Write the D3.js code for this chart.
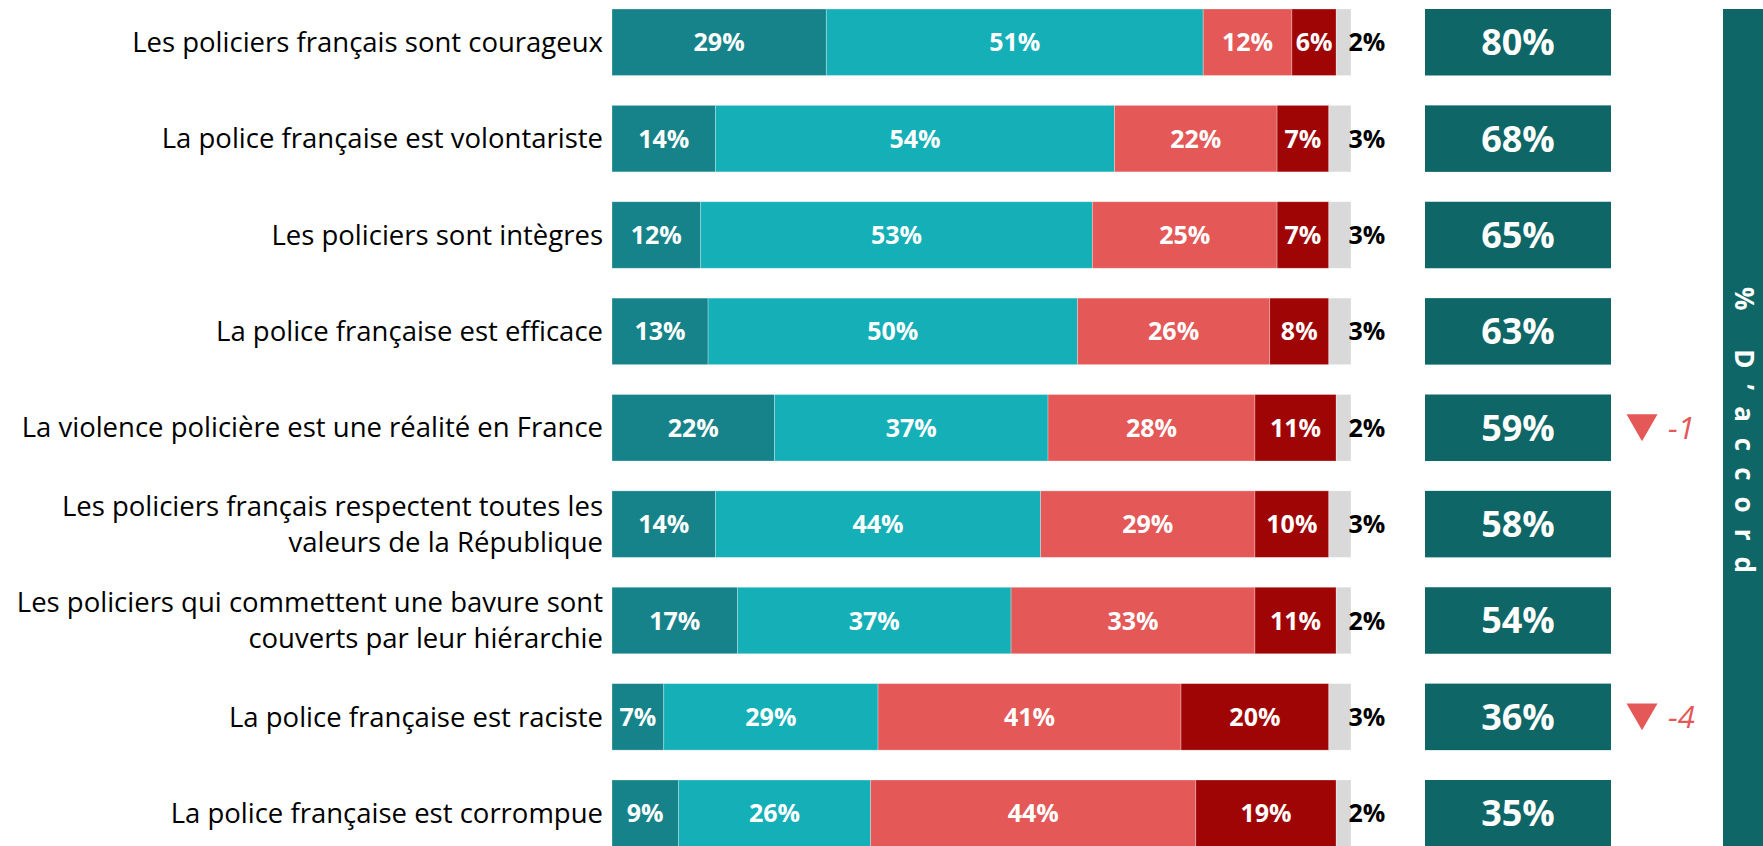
<!DOCTYPE html>
<html>
<head>
<meta charset="utf-8">
<script src="https://cdn.jsdelivr.net/npm/d3@7"></script>
<style>
  body { margin: 0; background: #fff; }
  svg text { font-family: "Open Sans", "Noto Sans", sans-serif; }
</style>
</head>
<body>
<div id="chart"></div>
<script>
var width = 1763,
    height = 846;

// data
var categories = [
    'Les policiers français sont courageux',
    'La police française est volontariste',
    'Les policiers sont intègres',
    'La police française est efficace',
    'La violence policière est une réalité en France',
    'Les policiers français respectent toutes les\nvaleurs de la République',
    'Les policiers qui commettent une bavure sont\ncouverts par leur hiérarchie',
    'La police française est raciste',
    'La police française est corrompue'
];
var toutAFait = [29, 14, 12, 13, 22, 14, 17, 7, 9];
var plutot = [51, 54, 53, 50, 37, 44, 37, 29, 26];
var plutotPas = [12, 22, 25, 26, 28, 29, 33, 41, 44];
var pasDuTout = [6, 7, 7, 8, 11, 10, 11, 20, 19];
var nsp = [2, 3, 3, 3, 2, 3, 2, 3, 2];
var totalAccord = [80, 68, 65, 63, 59, 58, 54, 36, 35];
var evolution = [null, null, null, null, -1, null, null, -4, null];
var sideTitle = '% D’accord';

var seriesNames = ['toutAFait', 'plutot', 'plutotPas', 'pasDuTout', 'nsp'];
var colors = ['#16838a', '#14afb7', '#e45858', '#a00505', '#d9d9d9'];

var rows = categories.map((c, i) => ({
    cat: c,
    toutAFait: toutAFait[i],
    plutot: plutot[i],
    plutotPas: plutotPas[i],
    pasDuTout: pasDuTout[i],
    nsp: nsp[i],
    total: totalAccord[i],
    evol: evolution[i]
}));

var svg = d3.select('#chart')
    .append('svg')
    .attr('width', width)
    .attr('height', height);

var x = d3.scaleLinear().domain([0, 100]).range([612, 1351]);
var y = d3.scaleBand().domain(categories).range([9, 846.5]).paddingInner(0.31);
var color = d3.scaleOrdinal().domain(seriesNames).range(colors);

var stack = d3.stack().keys(seriesNames)(rows);

// stacked bars
var layer = svg.selectAll('g.layer')
    .data(stack)
    .enter()
    .append('g')
    .attr('class', 'layer')
    .attr('fill', d => color(d.key));

layer.selectAll('rect')
    .data(d => d)
    .enter()
    .append('rect')
    .attr('x', d => x(d[0]))
    .attr('y', d => y(d.data.cat))
    .attr('width', d => x(d[1]) - x(d[0]))
    .attr('height', y.bandwidth())
    .attr('stroke', '#fff')
    .attr('stroke-opacity', 0.35)
    .attr('stroke-width', 0.8);

// labels inside segments (all but nsp)
stack.slice(0, 4).forEach(s => {
    svg.selectAll(null)
        .data(s)
        .enter()
        .append('text')
        .attr('x', d => (x(d[0]) + x(d[1])) / 2)
        .attr('y', d => y(d.data.cat) + y.bandwidth() / 2)
        .attr('dy', '0.36em')
        .attr('text-anchor', 'middle')
        .attr('fill', '#fff')
        .style('font-size', '25px')
        .style('font-weight', 700)
        .text(d => (d[1] - d[0]) + '%');
});

// nsp labels, right of the bar
svg.selectAll('text.nsp')
    .data(rows)
    .enter()
    .append('text')
    .attr('class', 'nsp')
    .attr('x', x(100) + 16)
    .attr('y', d => y(d.cat) + y.bandwidth() / 2)
    .attr('dy', '0.36em')
    .attr('text-anchor', 'middle')
    .attr('fill', '#000')
    .style('font-size', '25px')
    .style('font-weight', 700)
    .text(d => d.nsp + '%');

// category labels
var catLabel = svg.selectAll('text.cat')
    .data(rows)
    .enter()
    .append('text')
    .attr('class', 'cat')
    .attr('text-anchor', 'end')
    .attr('fill', '#000')
    .style('font-size', '27.5px');

catLabel.each(function(d) {
    var lines = d.cat.split('\n');
    var cy = y(d.cat) + y.bandwidth() / 2;
    var lh = 36;
    d3.select(this).selectAll('tspan')
        .data(lines)
        .enter()
        .append('tspan')
        .attr('x', 603)
        .attr('y', (l, i) => cy + (i - (lines.length - 1) / 2) * lh)
        .attr('dy', '0.35em')
        .text(l => l);
});

// total agree boxes
var boxX = 1425, boxW = 186;

svg.selectAll('rect.total')
    .data(rows)
    .enter()
    .append('rect')
    .attr('class', 'total')
    .attr('x', boxX)
    .attr('y', d => y(d.cat))
    .attr('width', boxW)
    .attr('height', y.bandwidth())
    .attr('fill', '#0f6667');

svg.selectAll('text.total')
    .data(rows)
    .enter()
    .append('text')
    .attr('class', 'total')
    .attr('x', boxX + boxW / 2)
    .attr('y', d => y(d.cat) + y.bandwidth() / 2)
    .attr('dy', '0.36em')
    .attr('text-anchor', 'middle')
    .attr('fill', '#fff')
    .style('font-size', '36px')
    .style('font-weight', 700)
    .text(d => d.total + '%');

// evolution markers
var evol = rows.filter(d => d.evol !== null);
var tri = d3.symbol().type(d3.symbolTriangle).size(416);

svg.selectAll('path.evol')
    .data(evol)
    .enter()
    .append('path')
    .attr('class', 'evol')
    .attr('d', tri)
    .attr('fill', '#e45858')
    .attr('transform', d => 'translate(1642,' + (y(d.cat) + y.bandwidth() / 2 - 4.5) + ') rotate(180)');

svg.selectAll('text.evol')
    .data(evol)
    .enter()
    .append('text')
    .attr('class', 'evol')
    .attr('x', 1668)
    .attr('y', d => y(d.cat) + y.bandwidth() / 2 + 11)
    .attr('fill', '#e45858')
    .style('font-size', '31px')
    .style('font-style', 'italic')
    .text(d => d.evol);

// side panel
svg.append('rect')
    .attr('x', 1723)
    .attr('y', 9)
    .attr('width', 60)
    .attr('height', height)
    .attr('fill', '#0f6667');

svg.append('text')
    .attr('transform', 'translate(1735,438) rotate(90)')
    .attr('text-anchor', 'middle')
    .attr('fill', '#fff')
    .style('font-size', '26px')
    .style('font-weight', 700)
    .style('letter-spacing', '16px')
    .text(sideTitle);
</script>
</body>
</html>
